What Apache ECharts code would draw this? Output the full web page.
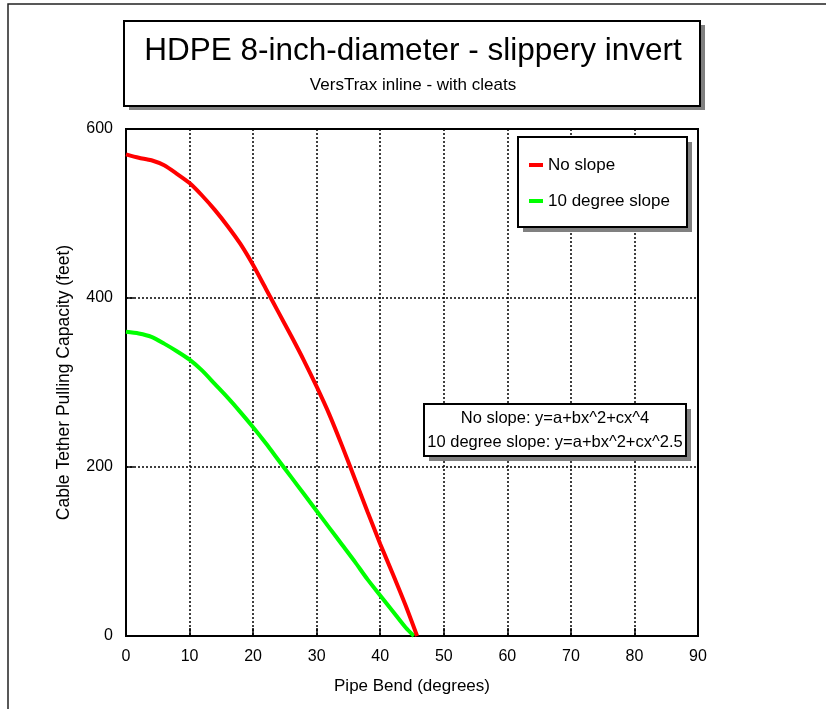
<!DOCTYPE html>
<html>
<head>
<meta charset="utf-8">
<script src="https://cdn.jsdelivr.net/npm/echarts@6/dist/echarts.min.js"></script>
<style>
  html, body { margin: 0; padding: 0; background: #fff; }
  #chart { width: 826px; height: 709px; }
</style>
</head>
<body>
<div id="chart"></div>
<script>
// Pulling capacity vs. pipe bend, HDPE 8-inch pipe
const noSlopeDeg = [0, 2, 4, 6, 8, 10, 12, 14, 16, 18, 20, 22, 24, 26, 28, 30, 32, 34, 36, 38, 40, 42, 44, 45.8];
const noSlopeFt  = [570, 566, 563, 557, 547, 536, 521, 504, 485, 464, 439, 411, 383, 355, 326, 295, 262, 225, 186, 147, 109, 73, 36, 0];

const slopeDeg = [0, 2, 4, 6, 8, 10, 12, 14, 16, 18, 20, 22, 24, 26, 28, 30, 32, 34, 36, 38, 40, 42, 44, 45.3];
const slopeFt  = [360, 358, 354, 346, 337, 327, 314, 298, 282, 265, 247, 228, 208, 188, 168, 148, 128, 108, 88, 67, 48, 29, 10, 0];

const xTicks = [0, 10, 20, 30, 40, 50, 60, 70, 80, 90];
const yTicks = [0, 200, 400, 600];

const seriesNames = ['No slope', '10 degree slope'];
const fitNotes = ['No slope: y=a+bx^2+cx^4', '10 degree slope: y=a+bx^2+cx^2.5'];

const FONT = "'Liberation Sans', Arial, sans-serif";
const SHADOW = '#808080';
const pair = (xs, ys) => xs.map((x, i) => [x, ys[i]]);

// boxed panel: grey drop shadow rect plus white framed rect
function panel(x, y, w, h, dx, dy, z) {
  return [
    { type: 'rect', z: z, silent: true,
      shape: { x: x + dx, y: y + dy, width: w, height: h },
      style: { fill: SHADOW, stroke: null } },
    { type: 'rect', z: z + 1, silent: true,
      shape: { x: x, y: y, width: w, height: h },
      style: { fill: '#fff', stroke: '#000', lineWidth: 2 } }
  ];
}

const chart = echarts.init(document.getElementById('chart'), null, { renderer: 'canvas' });

chart.setOption({
  animation: false,
  backgroundColor: '#ffffff',
  textStyle: { fontFamily: FONT },
  title: {
    left: 'center',
    top: 33,
    padding: 0,
    itemGap: 6,
    z: 10,
    text: 'HDPE 8-inch-diameter - slippery invert',
    subtext: 'VersTrax inline - with cleats',
    textStyle: { fontFamily: FONT, fontSize: 31.5, fontWeight: 'normal', color: '#000', lineHeight: 36 },
    subtextStyle: { fontFamily: FONT, fontSize: 17, color: '#000', lineHeight: 20 }
  },
  legend: {
    orient: 'vertical',
    left: 518,
    top: 137,
    padding: [19, 15, 16, 11],
    itemGap: 18,
    itemWidth: 14,
    itemHeight: 4,
    icon: 'rect',
    z: 10,
    backgroundColor: 'transparent',
    borderWidth: 0,
    textStyle: { fontFamily: FONT, fontSize: 17, color: '#000', lineHeight: 18 },
    data: seriesNames
  },
  grid: {
    left: 126,
    top: 129,
    right: 128,
    bottom: 73,
    show: true,
    borderColor: '#000',
    borderWidth: 2,
    backgroundColor: 'transparent'
  },
  xAxis: {
    type: 'value',
    min: xTicks[0],
    max: xTicks[xTicks.length - 1],
    interval: xTicks[1] - xTicks[0],
    name: 'Pipe Bend (degrees)',
    nameLocation: 'middle',
    nameGap: 42,
    nameTextStyle: { fontFamily: FONT, fontSize: 17, color: '#000' },
    axisLine: { lineStyle: { color: '#000', width: 2 } },
    axisTick: { inside: true, length: 8, lineStyle: { color: '#000', width: 1.5 } },
    axisLabel: { margin: 13, fontFamily: FONT, fontSize: 16, color: '#000' },
    splitLine: { show: true, lineStyle: { color: '#000', width: 1.5, type: [2, 2] } }
  },
  yAxis: {
    type: 'value',
    min: yTicks[0],
    max: yTicks[yTicks.length - 1],
    interval: yTicks[1] - yTicks[0],
    name: 'Cable Tether Pulling Capacity (feet)',
    nameLocation: 'middle',
    nameGap: 53,
    nameTextStyle: { fontFamily: FONT, fontSize: 17.5, color: '#000' },
    axisLine: { show: true, lineStyle: { color: '#000', width: 2 } },
    axisTick: { show: true, inside: true, length: 8, lineStyle: { color: '#000', width: 1.5 } },
    axisLabel: { margin: 13, fontFamily: FONT, fontSize: 16, color: '#000' },
    splitLine: { show: true, lineStyle: { color: '#000', width: 1.5, type: [2, 2] } }
  },
  series: [
    {
      name: seriesNames[0],
      type: 'line',
      data: pair(noSlopeDeg, noSlopeFt),
      showSymbol: false,
      smooth: 0.25,
      color: '#ff0000',
      lineStyle: { color: '#ff0000', width: 4 },
      z: 3
    },
    {
      name: seriesNames[1],
      type: 'line',
      data: pair(slopeDeg, slopeFt),
      showSymbol: false,
      smooth: 0.25,
      color: '#00ff00',
      lineStyle: { color: '#00ff00', width: 4 },
      z: 2
    }
  ],
  graphic: [
    // page frame
    {
      type: 'rect', z: 0, silent: true,
      shape: { x: 8, y: 4, width: 840, height: 740 },
      style: { fill: 'none', stroke: '#222', lineWidth: 1.5 }
    },
    // title panel
    ...panel(124, 21, 576, 85, 5, 4, 1),
    // legend panel
    ...panel(518, 137, 169, 90, 5, 5, 5),
    // fitted-equation note
    ...panel(424, 404, 262, 52, 5, 5, 50),
    {
      type: 'text', z: 52, silent: true,
      style: {
        text: fitNotes[0], x: 555, y: 418.5, align: 'center', verticalAlign: 'middle',
        fontFamily: FONT, fontSize: 16.5, fill: '#000'
      }
    },
    {
      type: 'text', z: 52, silent: true,
      style: {
        text: fitNotes[1], x: 555, y: 442.5, align: 'center', verticalAlign: 'middle',
        fontFamily: FONT, fontSize: 16.5, fill: '#000'
      }
    }
  ]
});
</script>
</body>
</html>
